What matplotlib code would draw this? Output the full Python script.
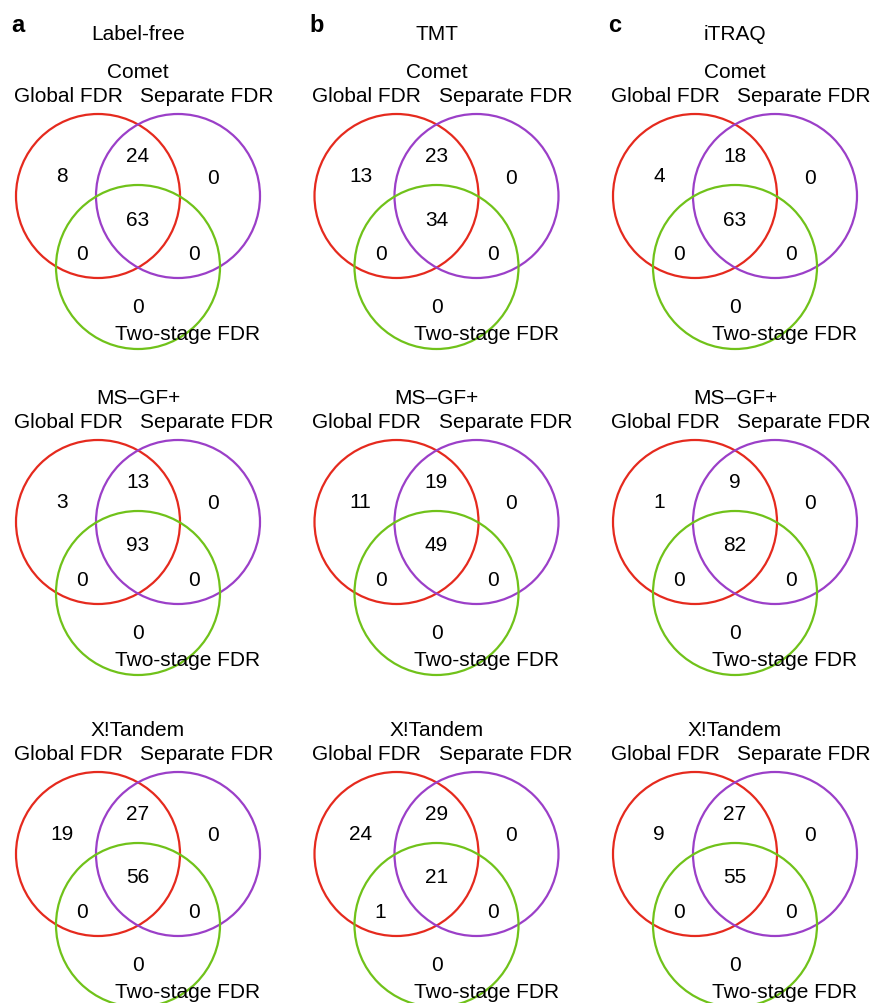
import matplotlib
matplotlib.use("Agg")
import matplotlib.pyplot as plt
from matplotlib.patches import Circle

plt.rcParams['font.family'] = ['Liberation Sans', 'DejaVu Sans']

panel_letters = ["a", "b", "c"]
column_titles = ["Label-free", "TMT", "iTRAQ"]
engines = ["Comet", "MS\u2013GF+", "X!Tandem"]
set_names = ["Global FDR", "Separate FDR", "Two-stage FDR"]

# region counts: [Global only, Global&Separate, Separate only, all three,
#                 Global&Two-stage, Separate&Two-stage, Two-stage only]
label_free = [[8, 24, 0, 63, 0, 0, 0],
              [3, 13, 0, 93, 0, 0, 0],
              [19, 27, 0, 56, 0, 0, 0]]
tmt = [[13, 23, 0, 34, 0, 0, 0],
       [11, 19, 0, 49, 0, 0, 0],
       [24, 29, 0, 21, 1, 0, 0]]
itraq = [[4, 18, 0, 63, 0, 0, 0],
         [1, 9, 0, 82, 0, 0, 0],
         [9, 27, 0, 55, 0, 0, 0]]
all_counts = [label_free, tmt, itraq]

colors = ["#E52A1E", "#9B3FC8", "#70C21A"]

W, H = 875, 1004
fig = plt.figure(figsize=(W / 100, H / 100), dpi=100)
ax = fig.add_axes([0, 0, 1, 1])
ax.set_xlim(0, W)
ax.set_ylim(H, 0)
ax.set_aspect('equal')
ax.axis('off')

R = 82
col_dx = 298.5
row_dy = [0, 326, 658]
fs = 15

# offsets relative to the venn centre
circ_off = [(-40, 0), (40, 0), (0, 71)]
num_off = [(-76, -20), (0, -40), (75, -19), (0, 23), (-56, 58), (56, 58), (0, 111)]

for c in range(3):
    x0 = 138 + c * col_dx
    ax.text(x0 - 127, 25, panel_letters[c], fontsize=17, fontweight='bold',
            ha='left', va='center')
    ax.text(x0, 35, column_titles[c], fontsize=fs, ha='center', va='center')
    for r in range(3):
        yc = 197 + row_dy[r]
        ax.text(x0, yc - 124, engines[r], fontsize=fs, ha='center', va='center')
        ax.text(x0 - 70, yc - 100, set_names[0], fontsize=fs, ha='center', va='center')
        ax.text(x0 + 69, yc - 100, set_names[1], fontsize=fs, ha='center', va='center')
        ax.text(x0 + 50, yc + 138, set_names[2], fontsize=fs, ha='center', va='center')
        for k in range(3):
            dx, dy = circ_off[k]
            ax.add_patch(Circle((x0 + dx, yc + dy), R, fill=False,
                                edgecolor=colors[k], lw=1.6))
        for k, v in enumerate(all_counts[c][r]):
            dx, dy = num_off[k]
            ax.text(x0 + dx, yc + dy, str(v), fontsize=fs, ha='center', va='center')

fig.savefig("out.png", dpi=100)
